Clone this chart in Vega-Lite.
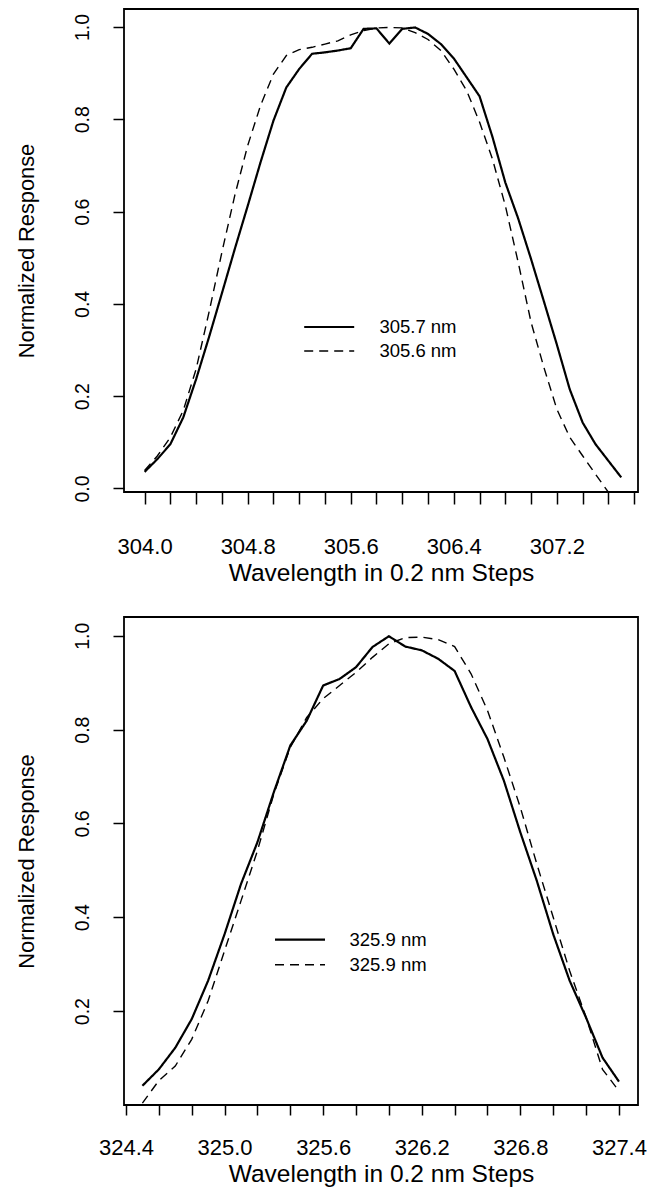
{
  "$schema": "https://vega.github.io/schema/vega-lite/v6.json",
  "background": "white",
  "padding": {"left": 15, "top": 8, "right": 0, "bottom": 0},
  "spacing": 30,
  "config": {
    "font": "Liberation Sans",
    "view": {"stroke": "black", "strokeWidth": 1.8},
    "axis": {"grid": false, "domain": false, "tickColor": "black", "tickWidth": 1.5, "labelColor": "black", "titleColor": "black", "labelFont": "Liberation Sans", "titleFont": "Liberation Sans", "titleFontWeight": "normal", "labelOverlap": false, "labelFlush": false, "labelBound": false},
    "legend": {"orient": "none", "title": null, "symbolType": "stroke", "symbolSize": 2500, "clipHeight": 24, "padding": 0, "labelFont": "Liberation Sans", "labelFontSize": 18.5, "labelColor": "black", "symbolStrokeColor": "black", "symbolFillColor": "transparent", "labelBaseline": "middle"}
  },
  "datasets": {
    "top": [
      {"series": "305.7 nm", "wl": 304.0, "resp": 0.036},
      {"series": "305.7 nm", "wl": 304.1, "resp": 0.064},
      {"series": "305.7 nm", "wl": 304.2, "resp": 0.096},
      {"series": "305.7 nm", "wl": 304.3, "resp": 0.154},
      {"series": "305.7 nm", "wl": 304.4, "resp": 0.237},
      {"series": "305.7 nm", "wl": 304.5, "resp": 0.328},
      {"series": "305.7 nm", "wl": 304.6, "resp": 0.423},
      {"series": "305.7 nm", "wl": 304.7, "resp": 0.519},
      {"series": "305.7 nm", "wl": 304.8, "resp": 0.612},
      {"series": "305.7 nm", "wl": 304.9, "resp": 0.707},
      {"series": "305.7 nm", "wl": 305.0, "resp": 0.797},
      {"series": "305.7 nm", "wl": 305.1, "resp": 0.869},
      {"series": "305.7 nm", "wl": 305.2, "resp": 0.909},
      {"series": "305.7 nm", "wl": 305.3, "resp": 0.942},
      {"series": "305.7 nm", "wl": 305.4, "resp": 0.945},
      {"series": "305.7 nm", "wl": 305.5, "resp": 0.949},
      {"series": "305.7 nm", "wl": 305.6, "resp": 0.954},
      {"series": "305.7 nm", "wl": 305.7, "resp": 0.996},
      {"series": "305.7 nm", "wl": 305.8, "resp": 0.997},
      {"series": "305.7 nm", "wl": 305.9, "resp": 0.964},
      {"series": "305.7 nm", "wl": 306.0, "resp": 0.996},
      {"series": "305.7 nm", "wl": 306.1, "resp": 0.999},
      {"series": "305.7 nm", "wl": 306.2, "resp": 0.985},
      {"series": "305.7 nm", "wl": 306.3, "resp": 0.963},
      {"series": "305.7 nm", "wl": 306.4, "resp": 0.932},
      {"series": "305.7 nm", "wl": 306.5, "resp": 0.891},
      {"series": "305.7 nm", "wl": 306.6, "resp": 0.85},
      {"series": "305.7 nm", "wl": 306.7, "resp": 0.762},
      {"series": "305.7 nm", "wl": 306.8, "resp": 0.663},
      {"series": "305.7 nm", "wl": 306.9, "resp": 0.585},
      {"series": "305.7 nm", "wl": 307.0, "resp": 0.497},
      {"series": "305.7 nm", "wl": 307.1, "resp": 0.405},
      {"series": "305.7 nm", "wl": 307.2, "resp": 0.312},
      {"series": "305.7 nm", "wl": 307.3, "resp": 0.215},
      {"series": "305.7 nm", "wl": 307.4, "resp": 0.143},
      {"series": "305.7 nm", "wl": 307.5, "resp": 0.096},
      {"series": "305.7 nm", "wl": 307.6, "resp": 0.06},
      {"series": "305.7 nm", "wl": 307.7, "resp": 0.024},
      {"series": "305.6 nm", "wl": 304.0, "resp": 0.039},
      {"series": "305.6 nm", "wl": 304.1, "resp": 0.071},
      {"series": "305.6 nm", "wl": 304.2, "resp": 0.111},
      {"series": "305.6 nm", "wl": 304.3, "resp": 0.169},
      {"series": "305.6 nm", "wl": 304.4, "resp": 0.259},
      {"series": "305.6 nm", "wl": 304.5, "resp": 0.382},
      {"series": "305.6 nm", "wl": 304.6, "resp": 0.512},
      {"series": "305.6 nm", "wl": 304.7, "resp": 0.635},
      {"series": "305.6 nm", "wl": 304.8, "resp": 0.743},
      {"series": "305.6 nm", "wl": 304.9, "resp": 0.83},
      {"series": "305.6 nm", "wl": 305.0, "resp": 0.898},
      {"series": "305.6 nm", "wl": 305.1, "resp": 0.938},
      {"series": "305.6 nm", "wl": 305.2, "resp": 0.951},
      {"series": "305.6 nm", "wl": 305.3, "resp": 0.956},
      {"series": "305.6 nm", "wl": 305.4, "resp": 0.963},
      {"series": "305.6 nm", "wl": 305.5, "resp": 0.97},
      {"series": "305.6 nm", "wl": 305.6, "resp": 0.983},
      {"series": "305.6 nm", "wl": 305.7, "resp": 0.992},
      {"series": "305.6 nm", "wl": 305.8, "resp": 0.998},
      {"series": "305.6 nm", "wl": 305.9, "resp": 0.999},
      {"series": "305.6 nm", "wl": 306.0, "resp": 0.998},
      {"series": "305.6 nm", "wl": 306.1, "resp": 0.988},
      {"series": "305.6 nm", "wl": 306.2, "resp": 0.973},
      {"series": "305.6 nm", "wl": 306.3, "resp": 0.949},
      {"series": "305.6 nm", "wl": 306.4, "resp": 0.909},
      {"series": "305.6 nm", "wl": 306.5, "resp": 0.862},
      {"series": "305.6 nm", "wl": 306.6, "resp": 0.794},
      {"series": "305.6 nm", "wl": 306.7, "resp": 0.714},
      {"series": "305.6 nm", "wl": 306.8, "resp": 0.613},
      {"series": "305.6 nm", "wl": 306.9, "resp": 0.49},
      {"series": "305.6 nm", "wl": 307.0, "resp": 0.36},
      {"series": "305.6 nm", "wl": 307.1, "resp": 0.262},
      {"series": "305.6 nm", "wl": 307.2, "resp": 0.172},
      {"series": "305.6 nm", "wl": 307.3, "resp": 0.111},
      {"series": "305.6 nm", "wl": 307.4, "resp": 0.071},
      {"series": "305.6 nm", "wl": 307.5, "resp": 0.031},
      {"series": "305.6 nm", "wl": 307.6, "resp": -0.008}
    ],
    "bottom": [
      {"series": "325.9 nm (solid)", "wl": 324.5, "resp": 0.041},
      {"series": "325.9 nm (solid)", "wl": 324.6, "resp": 0.076},
      {"series": "325.9 nm (solid)", "wl": 324.7, "resp": 0.122},
      {"series": "325.9 nm (solid)", "wl": 324.8, "resp": 0.183},
      {"series": "325.9 nm (solid)", "wl": 324.9, "resp": 0.265},
      {"series": "325.9 nm (solid)", "wl": 325.0, "resp": 0.364},
      {"series": "325.9 nm (solid)", "wl": 325.1, "resp": 0.471},
      {"series": "325.9 nm (solid)", "wl": 325.2, "resp": 0.56},
      {"series": "325.9 nm (solid)", "wl": 325.3, "resp": 0.667},
      {"series": "325.9 nm (solid)", "wl": 325.4, "resp": 0.766},
      {"series": "325.9 nm (solid)", "wl": 325.5, "resp": 0.819},
      {"series": "325.9 nm (solid)", "wl": 325.6, "resp": 0.894},
      {"series": "325.9 nm (solid)", "wl": 325.7, "resp": 0.908},
      {"series": "325.9 nm (solid)", "wl": 325.8, "resp": 0.933},
      {"series": "325.9 nm (solid)", "wl": 325.9, "resp": 0.976},
      {"series": "325.9 nm (solid)", "wl": 326.0, "resp": 0.999},
      {"series": "325.9 nm (solid)", "wl": 326.1, "resp": 0.977},
      {"series": "325.9 nm (solid)", "wl": 326.2, "resp": 0.969},
      {"series": "325.9 nm (solid)", "wl": 326.3, "resp": 0.951},
      {"series": "325.9 nm (solid)", "wl": 326.4, "resp": 0.925},
      {"series": "325.9 nm (solid)", "wl": 326.5, "resp": 0.848},
      {"series": "325.9 nm (solid)", "wl": 326.6, "resp": 0.78},
      {"series": "325.9 nm (solid)", "wl": 326.7, "resp": 0.691},
      {"series": "325.9 nm (solid)", "wl": 326.8, "resp": 0.581},
      {"series": "325.9 nm (solid)", "wl": 326.9, "resp": 0.478},
      {"series": "325.9 nm (solid)", "wl": 327.0, "resp": 0.364},
      {"series": "325.9 nm (solid)", "wl": 327.1, "resp": 0.265},
      {"series": "325.9 nm (solid)", "wl": 327.2, "resp": 0.186},
      {"series": "325.9 nm (solid)", "wl": 327.3, "resp": 0.101},
      {"series": "325.9 nm (solid)", "wl": 327.4, "resp": 0.05},
      {"series": "325.9 nm (dashed)", "wl": 324.5, "resp": 0.004},
      {"series": "325.9 nm (dashed)", "wl": 324.6, "resp": 0.052},
      {"series": "325.9 nm (dashed)", "wl": 324.7, "resp": 0.083},
      {"series": "325.9 nm (dashed)", "wl": 324.8, "resp": 0.14},
      {"series": "325.9 nm (dashed)", "wl": 324.9, "resp": 0.222},
      {"series": "325.9 nm (dashed)", "wl": 325.0, "resp": 0.329},
      {"series": "325.9 nm (dashed)", "wl": 325.1, "resp": 0.435},
      {"series": "325.9 nm (dashed)", "wl": 325.2, "resp": 0.542},
      {"series": "325.9 nm (dashed)", "wl": 325.3, "resp": 0.663},
      {"series": "325.9 nm (dashed)", "wl": 325.4, "resp": 0.762},
      {"series": "325.9 nm (dashed)", "wl": 325.5, "resp": 0.826},
      {"series": "325.9 nm (dashed)", "wl": 325.6, "resp": 0.866},
      {"series": "325.9 nm (dashed)", "wl": 325.7, "resp": 0.894},
      {"series": "325.9 nm (dashed)", "wl": 325.8, "resp": 0.922},
      {"series": "325.9 nm (dashed)", "wl": 325.9, "resp": 0.954},
      {"series": "325.9 nm (dashed)", "wl": 326.0, "resp": 0.983},
      {"series": "325.9 nm (dashed)", "wl": 326.1, "resp": 0.996},
      {"series": "325.9 nm (dashed)", "wl": 326.2, "resp": 0.997},
      {"series": "325.9 nm (dashed)", "wl": 326.3, "resp": 0.992},
      {"series": "325.9 nm (dashed)", "wl": 326.4, "resp": 0.977},
      {"series": "325.9 nm (dashed)", "wl": 326.5, "resp": 0.919},
      {"series": "325.9 nm (dashed)", "wl": 326.6, "resp": 0.841},
      {"series": "325.9 nm (dashed)", "wl": 326.7, "resp": 0.741},
      {"series": "325.9 nm (dashed)", "wl": 326.8, "resp": 0.634},
      {"series": "325.9 nm (dashed)", "wl": 326.9, "resp": 0.514},
      {"series": "325.9 nm (dashed)", "wl": 327.0, "resp": 0.4},
      {"series": "325.9 nm (dashed)", "wl": 327.1, "resp": 0.286},
      {"series": "325.9 nm (dashed)", "wl": 327.2, "resp": 0.187},
      {"series": "325.9 nm (dashed)", "wl": 327.3, "resp": 0.076},
      {"series": "325.9 nm (dashed)", "wl": 327.4, "resp": 0.03}
    ]
  },
  "resolve": {
    "scale": {"strokeDash": "independent", "strokeWidth": "independent"},
    "legend": {"strokeDash": "independent", "strokeWidth": "independent"}
  },
  "vconcat": [
    {
      "width": 514,
      "height": 483,
      "data": {"name": "top"},
      "mark": {"type": "line", "color": "black", "clip": true},
      "encoding": {
        "x": {
          "field": "wl", "type": "quantitative",
          "scale": {"domain": [303.84, 307.83], "nice": false, "zero": false},
          "axis": {
            "title": "Wavelength in 0.2 nm Steps",
            "values": [304.0, 304.2, 304.4, 304.6, 304.8, 305.0, 305.2, 305.4, 305.6, 305.8, 306.0, 306.2, 306.4, 306.6, 306.8, 307.0, 307.2, 307.4, 307.6, 307.8],
            "labelExpr": "round(datum.value*10) % 8 == 0 ? format(datum.value, '.1f') : ''",
            "tickSize": 12, "labelPadding": 32, "labelFontSize": 22, "labelBaseline": "top",
            "titleFontSize": 24.5, "titlePadding": 4
          }
        },
        "y": {
          "field": "resp", "type": "quantitative",
          "scale": {"domain": [-0.0076, 1.039], "nice": false, "zero": false},
          "axis": {
            "title": "Normalized Response",
            "values": [0, 0.2, 0.4, 0.6, 0.8, 1.0],
            "format": ".1f",
            "tickSize": 11, "labelPadding": 21, "labelFontSize": 19.5, "labelAngle": 270, "labelAlign": "center", "labelBaseline": "bottom",
            "titleFontSize": 21.8, "titlePadding": 34
          }
        },
        "strokeDash": {
          "field": "series", "type": "nominal",
          "scale": {"domain": ["305.7 nm", "305.6 nm"], "range": [[1, 0], [9, 6]]},
          "legend": {"legendX": 178.7, "legendY": 306, "labelOffset": 23.7, "rowPadding": 0}
        },
        "strokeWidth": {
          "field": "series", "type": "nominal",
          "scale": {"domain": ["305.7 nm", "305.6 nm"], "range": [2.2, 1.4]},
          "legend": {"legendX": 178.7, "legendY": 306, "labelOffset": 23.7, "rowPadding": 0}
        }
      }
    },
    {
      "width": 514,
      "height": 488,
      "data": {"name": "bottom"},
      "mark": {"type": "line", "color": "black", "clip": true},
      "encoding": {
        "x": {
          "field": "wl", "type": "quantitative",
          "scale": {"domain": [324.388, 327.516], "nice": false, "zero": false},
          "axis": {
            "title": "Wavelength in 0.2 nm Steps",
            "values": [324.4, 324.6, 324.8, 325.0, 325.2, 325.4, 325.6, 325.8, 326.0, 326.2, 326.4, 326.6, 326.8, 327.0, 327.2, 327.4],
            "labelExpr": "(round(datum.value*10) - 3244) % 6 == 0 ? format(datum.value, '.1f') : ''",
            "tickSize": 10, "labelPadding": 22, "labelFontSize": 22, "labelBaseline": "top",
            "titleFontSize": 24.5, "titlePadding": 4
          }
        },
        "y": {
          "field": "resp", "type": "quantitative",
          "scale": {"domain": [0.0, 1.04], "nice": false, "zero": false},
          "axis": {
            "title": "Normalized Response",
            "values": [0.2, 0.4, 0.6, 0.8, 1.0],
            "format": ".1f",
            "tickSize": 11, "labelPadding": 21, "labelFontSize": 19.5, "labelAngle": 270, "labelAlign": "center", "labelBaseline": "bottom",
            "titleFontSize": 21.8, "titlePadding": 34
          }
        },
        "strokeDash": {
          "field": "series", "type": "nominal",
          "scale": {"domain": ["325.9 nm (solid)", "325.9 nm (dashed)"], "range": [[1, 0], [9, 6]]},
          "legend": {"legendX": 149.5, "legendY": 310.7, "labelOffset": 23, "rowPadding": 1, "labelExpr": "'325.9 nm'"}
        },
        "strokeWidth": {
          "field": "series", "type": "nominal",
          "scale": {"domain": ["325.9 nm (solid)", "325.9 nm (dashed)"], "range": [2.2, 1.4]},
          "legend": {"legendX": 149.5, "legendY": 310.7, "labelOffset": 23, "rowPadding": 1, "labelExpr": "'325.9 nm'"}
        }
      }
    }
  ]
}
